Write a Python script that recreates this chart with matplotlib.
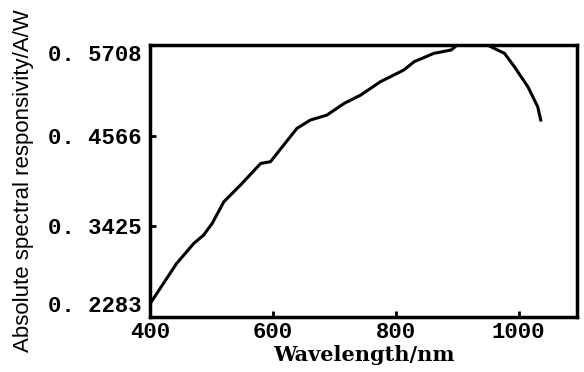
import matplotlib.pyplot as plt

# values
wavelength = [400, 443, 471, 487, 501, 520, 547, 580, 596, 639, 661, 688,
              716, 743, 775, 813, 830, 862, 890, 900, 925, 949, 977, 993,
              1015, 1031, 1036]
responsivity = [0.245, 0.2955, 0.3208, 0.3313, 0.3460, 0.3733, 0.3943, 0.4216,
                0.4238, 0.4658, 0.4763, 0.4826, 0.4973, 0.5078, 0.5246, 0.5393,
                0.5498, 0.5603, 0.5645, 0.5708, 0.5712, 0.5708, 0.5603, 0.5435,
                0.5183, 0.4931, 0.4763]

x_ticks = [400, 600, 800, 1000]
y_ticks = [0.2283, 0.3425, 0.4566, 0.5708]
y_tick_labels = ['0. 2283', '0. 3425', '0. 4566', '0. 5708']


def main():
    fig = plt.figure(figsize=(5.84, 3.72), dpi=100)
    ax = fig.add_axes([0.257, 0.148, 0.731, 0.731])

    ax.plot(wavelength, responsivity, color='black', linewidth=2.2)

    ax.set_xlim(400, 1095)
    ax.set_ylim(0.2283, 0.5708)
    ax.set_xticks(x_ticks)
    ax.set_yticks(y_ticks)
    ax.set_yticklabels(y_tick_labels)

    for lab in ax.get_xticklabels() + ax.get_yticklabels():
        lab.set_fontfamily('Liberation Mono')
        lab.set_fontweight('bold')
        lab.set_fontsize(16)

    # end labels sit inside the frame height, like the original
    ylabs = ax.get_yticklabels()
    ylabs[0].set_verticalalignment('bottom')
    ylabs[-1].set_verticalalignment('top')

    ax.tick_params(direction='in', length=4, width=2)
    ax.tick_params(axis='y', pad=6)
    ax.tick_params(axis='x', pad=4)
    for sp in ax.spines.values():
        sp.set_linewidth(2.5)

    ax.set_xlabel('Wavelength/nm', family='DejaVu Serif', weight='bold',
                  fontsize=15, labelpad=1)
    ax.set_ylabel('Absolute spectral responsivity/A/W', family='Liberation Sans',
                  fontsize=16, labelpad=10)

    fig.savefig('out.png', dpi=100)


if __name__ == "__main__":
    main()
